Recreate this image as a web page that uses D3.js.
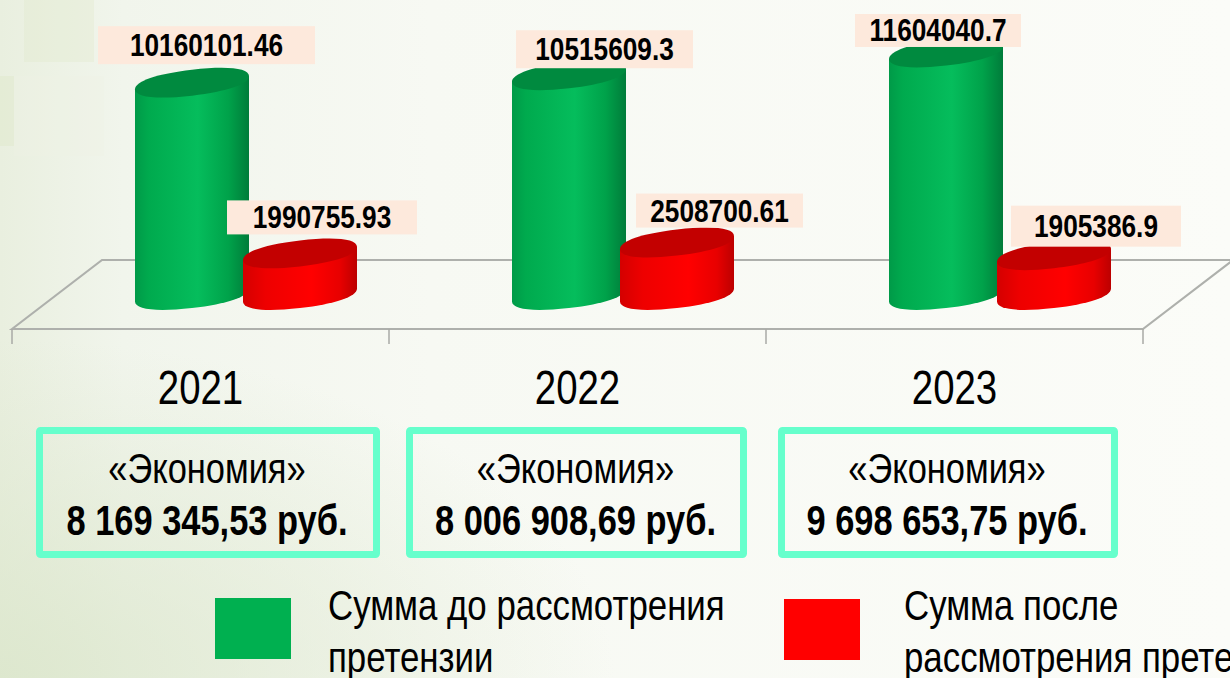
<!DOCTYPE html>
<html>
<head>
<meta charset="utf-8">
<script src="https://cdn.jsdelivr.net/npm/d3@7"></script>
<style>
  html, body { margin: 0; padding: 0; overflow: hidden; }
  svg { display: block; }
  text { font-family: "Liberation Sans", sans-serif; fill: #000; }
</style>
</head>
<body>
<div class="canvas"></div>
<script>
// Data
const years = ['2021', '2022', '2023']
const before = [10160101.46, 10515609.3, 11604040.7]
const after = [1990755.93, 2508700.61, 1905386.9]
const beforeLabels = ['10160101.46', '10515609.3', '11604040.7']
const afterLabels = ['1990755.93', '2508700.61', '1905386.9']
const savings = ['8 169 345,53 руб.', '8 006 908,69 руб.', '9 698 653,75 руб.']

const width = 1230
const height = 678

// The original uses a narrow face, Liberation Sans squeezed comes close
const narrow = 0.82

const svg = d3.select('.canvas')
  .append('svg')
  .attr('width', width)
  .attr('height', height)

const defs = svg.append('defs')

// Background gradients
const bgH = defs.append('linearGradient').attr('id', 'bgH')
bgH.append('stop').attr('offset', 0).attr('stop-color', '#e9efdf')
bgH.append('stop').attr('offset', 0.1).attr('stop-color', '#f1f5ec')
bgH.append('stop').attr('offset', 0.35).attr('stop-color', '#f7f9f3')
bgH.append('stop').attr('offset', 1).attr('stop-color', '#fbfcf8')

const bgCorner = defs.append('radialGradient').attr('id', 'bgCorner')
  .attr('cx', 0).attr('cy', 1).attr('r', 0.5)
bgCorner.append('stop').attr('offset', 0).attr('stop-color', '#dbe6cb').attr('stop-opacity', 0.85)
bgCorner.append('stop').attr('offset', 1).attr('stop-color', '#dbe6cb').attr('stop-opacity', 0)

svg.append('rect').attr('width', width).attr('height', height).attr('fill', 'url(#bgH)')
svg.append('rect').attr('width', width).attr('height', height).attr('fill', 'url(#bgCorner)')

// faint blocks in the top left of the slide background
const blocks = [[24, 0, 70, 62, '#dfe8c8'], [0, 76, 14, 70, '#dce6c0'], [14, 76, 90, 80, '#eef2e4']]
svg.selectAll('.block').data(blocks).enter().append('rect')
  .attr('class', 'block')
  .attr('x', d => d[0]).attr('y', d => d[1])
  .attr('width', d => d[2]).attr('height', d => d[3])
  .attr('fill', d => d[4]).attr('opacity', 0.3)

// Scales
const floorFront = 329
const floorBack = 260
const depth = 90
const baseY = 295

const x = d3.scaleBand().domain(years).range([12, 1143])
const y = d3.scaleLinear().domain([0, 10000000]).range([baseY, baseY - 209])
const series = d3.scalePoint().domain(['before', 'after']).range([180, 288])

// Floor of the 3d plot
const floorX0 = x.range()[0]
const floorX1 = x.range()[1]
const floor = d3.path()
floor.moveTo(floorX0, floorFront)
floor.lineTo(floorX0 + depth, floorBack)
floor.lineTo(floorX1 + depth, floorBack)
floor.lineTo(floorX1, floorFront)
floor.closePath()
svg.append('path')
  .attr('d', floor.toString())
  .attr('fill', 'none')
  .attr('stroke', '#aeb0ac')
  .attr('stroke-width', 2.2)

// Axis: year labels from the band scale, tick marks on the band edges
const xAxis = d3.axisBottom(x).tickSize(0).tickPadding(41)
const xAxisGroup = svg.append('g')
  .attr('transform', `translate(0, ${floorFront})`)
  .call(xAxis)
xAxisGroup.select('.domain').remove()
xAxisGroup.selectAll('text')
  .style('font-size', '48px')
  .style('font-family', '"Liberation Sans", sans-serif')
  .attr('fill', '#000')
  .attr('transform', 'scale(0.8, 1)')

const tickXs = years.map(d => x(d)).concat(floorX1)
svg.selectAll('.edgeTick').data(tickXs).enter().append('line')
  .attr('class', 'edgeTick')
  .attr('x1', d => d).attr('x2', d => d)
  .attr('y1', floorFront).attr('y2', floorFront + 15)
  .attr('stroke', '#a8aaa6')
  .attr('stroke-width', 1.5)

// Cylinder shading
const addShade = (id, stops) => {
  const g = defs.append('linearGradient').attr('id', id)
  stops.forEach(s => g.append('stop').attr('offset', s[0]).attr('stop-color', s[1]))
}
addShade('greenSide', [[0, '#009a48'], [0.12, '#00aa4e'], [0.55, '#05bd5c'], [0.82, '#00a24a'], [1, '#007c3a']])
addShade('redSide', [[0, '#d40000'], [0.2, '#ee0000'], [0.6, '#ff0000'], [0.85, '#e80000'], [1, '#bc0000']])

const rx = 57
const ry = 13
const skew = -6.6
// a bit rounder than a true ellipse, the bevel in the original blunts the tips
const bulge = 0.62

const bars = []
years.forEach((yr, i) => {
  bars.push({ year: yr, key: 'before', value: before[i], side: 'url(#greenSide)', top: '#008a3f' })
})
years.forEach((yr, i) => {
  bars.push({ year: yr, key: 'after', value: after[i], side: 'url(#redSide)', top: '#c30000' })
})

const halfCurve = (cy, dir) => {
  // from the right end to the left end, dir 1 under the centre line, -1 over it
  return `C${rx},${cy + dir * ry * bulge} ${rx * bulge},${cy + dir * ry} 0,${cy + dir * ry} ` +
    `S${-rx},${cy + dir * ry * bulge} ${-rx},${cy}`
}

const cyl = svg.selectAll('.cyl').data(bars).enter().append('g')
  .attr('class', 'cyl')
  .attr('transform', d => `translate(${x(d.year) + series(d.key)}, 0) skewY(${skew})`)

cyl.append('path')
  .attr('d', d => `M${rx},${y(d.value)} L${rx},${baseY} ${halfCurve(baseY, 1)} L${-rx},${y(d.value)} Z`)
  .attr('fill', d => d.side)

cyl.append('path')
  .attr('d', d => {
    const t = y(d.value)
    const back = `C${-rx},${t - ry * bulge} ${-rx * bulge},${t - ry} 0,${t - ry} S${rx},${t - ry * bulge} ${rx},${t}`
    return `M${rx},${t} ${halfCurve(t, 1)} ${back} Z`
  })
  .attr('fill', d => d.top)

// Data labels, each box moved off its bar by hand like in the original
const boxOffsets = {
  before: [[14.5, -37.5, 217, 38], [35.5, -26, 177, 38], [-8, -22, 166, 33]],
  after: [[22, -36, 190, 34], [42.5, -32, 167, 34], [42, -29, 170, 41]]
}
const labelRows = []
years.forEach((yr, i) => {
  labelRows.push({ year: yr, key: 'before', value: before[i], text: beforeLabels[i], off: boxOffsets.before[i] })
  labelRows.push({ year: yr, key: 'after', value: after[i], text: afterLabels[i], off: boxOffsets.after[i] })
})

const labels = svg.selectAll('.valueLabel').data(labelRows).enter().append('g')
  .attr('class', 'valueLabel')
  .attr('transform', d => `translate(${x(d.year) + series(d.key) + d.off[0]}, ${y(d.value) + d.off[1]})`)

labels.append('rect')
  .attr('x', d => -d.off[2] / 2)
  .attr('y', d => -d.off[3] / 2)
  .attr('width', d => d.off[2])
  .attr('height', d => d.off[3])
  .attr('fill', '#fde9dc')

labels.append('text')
  .attr('text-anchor', 'middle')
  .attr('transform', `translate(0, 11) scale(${narrow}, 1)`)
  .attr('font-size', 32)
  .attr('font-weight', 'bold')
  .text(d => d.text)

// «Экономия» boxes
const boxX = [36, 406, 778]
const boxW = [344, 341, 340]
const box = svg.selectAll('.econ').data(savings).enter().append('g')
  .attr('class', 'econ')
  .attr('transform', (d, i) => `translate(${boxX[i]}, 427)`)

box.append('rect')
  .attr('x', 3.5).attr('y', 3.5)
  .attr('width', (d, i) => boxW[i] - 7)
  .attr('height', 124)
  .attr('fill', 'none')
  .attr('stroke', '#66ffcc')
  .attr('stroke-width', 7)
  .attr('rx', 1)

box.append('text')
  .attr('text-anchor', 'middle')
  .attr('transform', (d, i) => `translate(${boxW[i] / 2 - 1}, 56) scale(${narrow}, 1)`)
  .attr('font-size', 42)
  .text('«Экономия»')

box.append('text')
  .attr('text-anchor', 'middle')
  .attr('transform', (d, i) => `translate(${boxW[i] / 2 - 1}, 108) scale(${narrow}, 1)`)
  .attr('font-size', 42)
  .attr('font-weight', 'bold')
  .text(d => d)

// Legend
const legendItems = [
  { color: '#00b050', sx: 215, sy: 598, tx: 328, lines: ['Сумма до рассмотрения', 'претензии'] },
  { color: '#ff0000', sx: 784, sy: 599, tx: 904, lines: ['Сумма после', 'рассмотрения претензии'] }
]
const legend = svg.selectAll('.legendItem').data(legendItems).enter().append('g')
  .attr('class', 'legendItem')

legend.append('rect')
  .attr('x', d => d.sx).attr('y', d => d.sy)
  .attr('width', 76).attr('height', 61)
  .attr('fill', d => d.color)

legend.each(function(d) {
  d3.select(this).selectAll('text').data(d.lines).enter().append('text')
    .attr('transform', (l, i) => `translate(${d.tx}, ${620 + i * 52}) scale(0.81, 1)`)
    .attr('font-size', 43)
    .text(l => l)
})
</script>
</body>
</html>
